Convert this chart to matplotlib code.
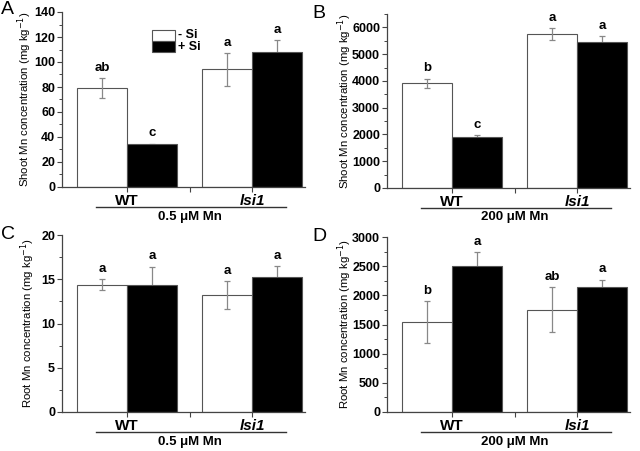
import numpy as np
import matplotlib.pyplot as plt
from matplotlib.patches import Rectangle
from matplotlib.ticker import AutoMinorLocator

plt.rcParams['font.family'] = ['Liberation Sans', 'DejaVu Sans']

genotypes = ['WT', 'lsi1']
treat = ['- Si', '+ Si']

# panel A: shoot, 0.5 uM Mn
a_mean = [[79, 34], [94, 108]]
a_err = [[8, 0.6], [13, 9.5]]
a_let = [['ab', 'c'], ['a', 'a']]
# panel B: shoot, 200 uM Mn
b_mean = [[3920, 1920], [5750, 5440]]
b_err = [[170, 60], [220, 240]]
b_let = [['b', 'c'], ['a', 'a']]
# panel C: root, 0.5 uM Mn
c_mean = [[14.4, 14.4], [13.2, 15.2]]
c_err = [[0.6, 2.0], [1.6, 1.3]]
c_let = [['a', 'a'], ['a', 'a']]
# panel D: root, 200 uM Mn
d_mean = [[1545, 2495], [1755, 2150]]
d_err = [[360, 250], [390, 115]]
d_let = [['b', 'a'], ['ab', 'a']]

W, H = 640, 451
fig = plt.figure(figsize=(6.4, 4.51), dpi=100)

def px_axes(x0, x1, ytop, ybot):
    return fig.add_axes([x0 / W, 1 - ybot / H, (x1 - x0) / W, (ybot - ytop) / H])

def panel(ax, mean, err, let, ylim, yticks, ylabel, cond, letter, lx, ly, labx):
    centers = np.array([1.0, 3.5])
    for g in range(2):
        for t in range(2):
            x = centers[g] + (t - 0.5)
            fc = 'white' if t == 0 else 'black'
            ax.bar(x, mean[g][t], width=1.0, color=fc, edgecolor='#555555', linewidth=0.8, zorder=2)
            # error bars sit behind the black bars, so only the upper half shows
            ax.errorbar(x, mean[g][t], yerr=err[g][t], fmt='none', ecolor='#888888',
                        elinewidth=0.9, capsize=2, capthick=0.9, zorder=3 if t == 0 else 1)
            ax.text(x, mean[g][t] + err[g][t] + ylim[1] * 0.025, let[g][t], ha='center', va='bottom',
                    fontsize=9.5, fontweight='bold')
    ax.set_xlim(-0.3, 4.55)
    ax.set_ylim(*ylim)
    ax.set_yticks(yticks)
    ax.yaxis.set_minor_locator(AutoMinorLocator(2))
    ax.set_xticks([1.0, 2.25, 3.5])
    ax.set_xticklabels(['', '', ''])
    for s in ['top', 'right']:
        ax.spines[s].set_visible(False)
    for s in ['left', 'bottom']:
        ax.spines[s].set_color('#444444')
        ax.spines[s].set_linewidth(0.9)
    ax.tick_params(axis='both', which='major', length=3.5, width=0.8, color='#444444',
                   labelsize=9, pad=1.5)
    ax.tick_params(axis='y', which='minor', length=2, width=0.7, color='#444444')
    for lab in ax.get_yticklabels():
        lab.set_fontweight('bold')
    ax.set_ylabel(ylabel, fontsize=8.2, va='center')
    ax.yaxis.set_label_coords((labx - lx_axes[ax]) / 243, 0.5)
    ax.text(1.0, -0.04, 'WT', transform=ax.get_xaxis_transform(), ha='center', va='top',
            fontsize=11, fontweight='bold')
    ax.text(3.5, -0.04, 'lsi1', transform=ax.get_xaxis_transform(), ha='center', va='top',
            fontsize=11, fontweight='bold', style='italic')
    ax.plot([0.38, 4.18], [-0.115, -0.115], transform=ax.get_xaxis_transform(), color='#333333',
            linewidth=1.0, clip_on=False)
    ax.text(2.25, -0.135, cond, transform=ax.get_xaxis_transform(), ha='center', va='top',
            fontsize=9.5, fontweight='bold')
    fig.text(lx / W, 1 - ly / H, letter, fontsize=14, ha='left', va='top')

lx_axes = {}
axA = px_axes(62, 305, 12, 187); lx_axes[axA] = 62
axB = px_axes(387, 630, 14, 188); lx_axes[axB] = 387
axC = px_axes(62, 305, 235, 412); lx_axes[axC] = 62
axD = px_axes(387, 630, 237, 412); lx_axes[axD] = 387

panel(axA, a_mean, a_err, a_let, (0, 140), np.arange(0, 141, 20),
      'Shoot Mn concentration (mg kg$^{-1}$)', '0.5 μM Mn', 'A', 1, 1, 25)
panel(axB, b_mean, b_err, b_let, (0, 6500), np.arange(0, 6001, 1000),
      'Shoot Mn concentration (mg kg$^{-1}$)', '200 μM Mn', 'B', 312, 5, 345)
panel(axC, c_mean, c_err, c_let, (0, 20), np.arange(0, 21, 5),
      'Root Mn concentration (mg kg$^{-1}$)', '0.5 μM Mn', 'C', 1, 226, 28)
panel(axD, d_mean, d_err, d_let, (0, 3000), np.arange(0, 3001, 500),
      'Root Mn concentration (mg kg$^{-1}$)', '200 μM Mn', 'D', 312, 228, 345)

# legend in panel A
for i, (lab, fc) in enumerate(zip(treat, ['white', 'black'])):
    y0 = 30 + i * 11
    fig.patches.append(Rectangle((152 / W, 1 - (y0 + 11) / H), 23 / W, 11 / H, transform=fig.transFigure,
                                 facecolor=fc, edgecolor='#555555', linewidth=0.8))
    fig.text(178 / W, 1 - (y0 + 5.5) / H, lab, fontsize=9, fontweight='bold', va='center')

fig.savefig('out.png', dpi=100)
